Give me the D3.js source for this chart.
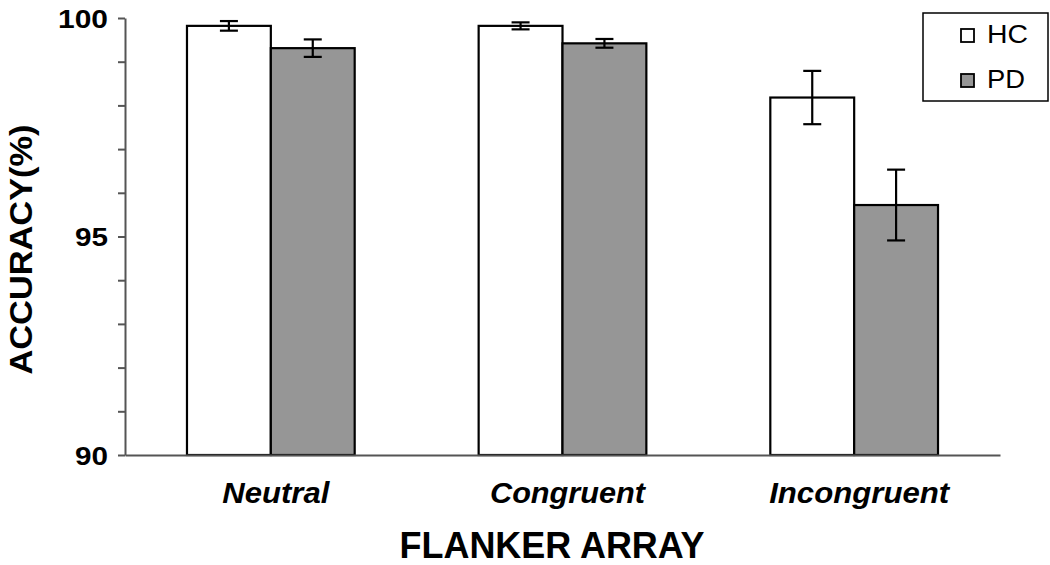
<!DOCTYPE html>
<html>
<head>
<meta charset="utf-8">
<script src="https://cdn.jsdelivr.net/npm/d3@7"></script>
<style>
  body { margin: 0; background: #fff; }
  svg { display: block; font-family: Arial, "Liberation Sans", sans-serif; }
</style>
</head>
<body>
<svg id="chart" width="1050" height="565"></svg>
<script>
// data
const categories = ['Neutral', 'Congruent', 'Incongruent'];
const groups = ['HC', 'PD'];
const hcValues = [99.82, 99.82, 98.18];
const hcErrors = [0.11, 0.08, 0.61];
const pdValues = [99.31, 99.42, 95.72];
const pdErrors = [0.2, 0.1, 0.81];
const yTickLabels = [90, 95, 100];

const fills = { HC: '#ffffff', PD: '#969696' };
// the source figure's lettering is stretched wide, so widths are pinned
const catWidths = { Neutral: 107, Congruent: 155, Incongruent: 180 };

const svg = d3.select('#chart');
const m = { left: 125, right: 50, top: 18, bottom: 110 };
const W = 1050, H = 565;

const x = d3.scaleBand().domain(categories).range([m.left, W - m.right]).paddingInner(0.425).paddingOuter(0.2125);
const xs = d3.scaleBand().domain(groups).range([0, x.bandwidth()]);
const y = d3.scaleLinear().domain([90, 100]).range([H - m.bottom, m.top]);

const rows = categories.flatMap((c, i) => [
  { cat: c, g: 'HC', v: hcValues[i], e: hcErrors[i] },
  { cat: c, g: 'PD', v: pdValues[i], e: pdErrors[i] },
]);

// bars
svg.append('g').selectAll('rect')
  .data(rows).enter().append('rect')
  .attr('x', d => x(d.cat) + xs(d.g))
  .attr('y', d => y(d.v))
  .attr('width', xs.bandwidth())
  .attr('height', d => y(90) - y(d.v))
  .attr('fill', d => fills[d.g])
  .attr('stroke', '#000')
  .attr('stroke-width', 2.2);

// error bars
const eb = svg.append('g').attr('stroke', '#000').attr('stroke-width', 2.2);
rows.forEach(d => {
  const cx = x(d.cat) + xs(d.g) + xs.bandwidth() / 2;
  eb.append('line').attr('x1', cx).attr('x2', cx).attr('y1', y(d.v + d.e)).attr('y2', y(d.v - d.e));
  [d.v + d.e, d.v - d.e].forEach(v => {
    eb.append('line').attr('x1', cx - 9).attr('x2', cx + 9).attr('y1', y(v)).attr('y2', y(v));
  });
});

// y axis: minor ticks every 1, labels at 90/95/100
const yAxis = svg.append('g').attr('transform', `translate(${m.left},0)`)
  .call(d3.axisLeft(y).tickValues(d3.range(90, 101)).tickSize(7).tickSizeOuter(0)
    .tickFormat(d => yTickLabels.includes(d) ? d : ''));
yAxis.select('.domain').attr('stroke', '#555').attr('stroke-width', 2);
yAxis.selectAll('.tick line').attr('stroke', '#555').attr('stroke-width', 2);
yAxis.selectAll('.tick text')
  .attr('font-size', 25).attr('font-weight', 'bold')
  .attr('font-family', 'Arial, "Liberation Sans", sans-serif').attr('fill', '#000')
  .attr('x', -17).attr('dy', '0.36em')
  .attr('textLength', d => String(d).length === 3 ? 50 : 33)
  .attr('lengthAdjust', 'spacingAndGlyphs');

// x axis baseline + labels
const xAxis = svg.append('g').attr('transform', `translate(0,${y(90)})`)
  .call(d3.axisBottom(x).tickSize(0));
xAxis.select('.domain').attr('stroke', '#555').attr('stroke-width', 2);
xAxis.selectAll('.tick text')
  .attr('font-size', 29).attr('font-weight', 'bold').attr('font-style', 'italic')
  .attr('font-family', 'Arial, "Liberation Sans", sans-serif').attr('fill', '#000')
  .attr('x', 5).attr('y', 48).attr('dy', 0)
  .attr('textLength', d => catWidths[d])
  .attr('lengthAdjust', 'spacingAndGlyphs');

// axis titles
svg.append('text')
  .attr('transform', `translate(32,${(y(90) + y(100)) / 2 + 13}) rotate(-90)`)
  .attr('text-anchor', 'middle')
  .attr('font-size', 31).attr('font-weight', 'bold')
  .attr('textLength', 250).attr('lengthAdjust', 'spacingAndGlyphs')
  .text('ACCURACY(%)');
svg.append('text')
  .attr('x', 552).attr('y', 558)
  .attr('text-anchor', 'middle')
  .attr('font-size', 36).attr('font-weight', 'bold')
  .attr('textLength', 305).attr('lengthAdjust', 'spacingAndGlyphs')
  .text('FLANKER ARRAY');

// legend
const lg = svg.append('g').attr('transform', 'translate(923,13)');
lg.append('rect').attr('width', 125).attr('height', 88).attr('fill', '#fff').attr('stroke', '#000').attr('stroke-width', 1.5);
groups.forEach((g, i) => {
  const row = lg.append('g').attr('transform', `translate(38,${16 + i * 45})`);
  row.append('rect').attr('width', 13).attr('height', 13).attr('fill', fills[g]).attr('stroke', '#000').attr('stroke-width', 1.8);
  row.append('text').attr('x', 26).attr('y', 14).attr('font-size', 25)
    .attr('textLength', g === 'HC' ? 41 : 38).attr('lengthAdjust', 'spacingAndGlyphs')
    .text(g);
});
</script>
</body>
</html>
